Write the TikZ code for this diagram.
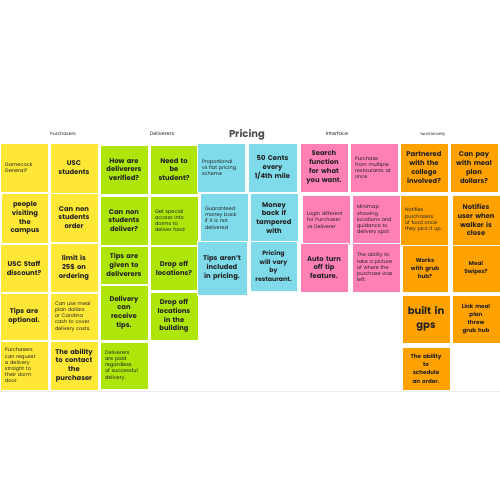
\documentclass[tikz,border=0pt]{standalone}
\usepackage{fontspec}
\setmainfont{Poppins}
\hyphenpenalty=10000
\exhyphenpenalty=10000
\definecolor{yel}{HTML}{FFE835}
\definecolor{grn}{HTML}{AEE60B}
\definecolor{cya}{HTML}{7FDBEA}
\definecolor{pnk}{HTML}{FF80B4}
\definecolor{org}{HTML}{FFA200}
\definecolor{ink}{HTML}{222222}
\tikzset{
  stick/.style={draw=white, line width=0.4pt, inner sep=1pt, text=ink, align=center},
  big/.style={font=\fontsize{6.8}{8.8}\selectfont\bfseries, text width=45pt, align=center},
  med/.style={font=\fontsize{5.6}{8.2}\selectfont\bfseries, text width=44pt, align=center},
  sml/.style={font=\fontsize{5}{6.2}\selectfont, text width=38pt, align=left},
  hdr/.style={font=\fontsize{4.6}{5}\selectfont, text=ink},
}
\begin{document}
\begin{tikzpicture}[x=1pt,y=-1pt]
\useasboundingbox (0,0) rectangle (500,500);
\draw[gray!15, line width=0.6pt] (0,391) -- (500,391);
% headers
\node[hdr] (h1) at (63,134) {Purchasers};
\node[hdr, font=\fontsize{5}{6}\selectfont] (h2) at (162,134) {Deliverers};
\node[hdr, font=\fontsize{10}{12}\selectfont\bfseries, text=black!70] (h3) at (247,135) {Pricing};
\node[hdr, font=\fontsize{5}{6}\selectfont] (h4) at (337,134) {Interface};
\node[hdr, font=\fontsize{4}{5}\selectfont] (h5) at (433,134) {functionality};
% yellow
\node[stick, fill=yel, sml, minimum width=48pt, minimum height=49pt] (a1) at (24,167.5) {Gamecock\\General?};
\node[stick, fill=yel, big, minimum width=48pt, minimum height=50pt] (a2) at (74,168) {USC\\students};
\node[stick, fill=yel, big, minimum width=46pt, minimum height=50pt] (a3) at (25,218) {people\\visiting\\the\\campus};
\node[stick, fill=yel, big, minimum width=48pt, minimum height=49pt] (a4) at (74,217.5) {Can non\\students\\order};
\node[stick, fill=yel, big, minimum width=48pt, minimum height=48pt] (a5) at (24,268) {USC Staff\\discount?};
\node[stick, fill=yel, big, minimum width=48pt, minimum height=49pt] (a6) at (74,267.5) {limit is\\25\$ on\\ordering};
\node[stick, fill=yel, big, minimum width=48pt, minimum height=47pt] (a7) at (24,316.5) {Tips are\\optional.};
\node[stick, fill=yel, sml, minimum width=48pt, minimum height=47pt] (a8) at (74,316.5) {Can use meal plan dollars or Carolina cash to cover delivery costs.};
\node[stick, fill=yel, sml, minimum width=48pt, minimum height=49pt] (a9) at (24,365.5) {Purchasers can request a delivery straight to their dorm door.};
\node[stick, fill=yel, big, minimum width=48pt, minimum height=49pt] (a10) at (74,365.5) {The ability\\to contact\\the\\purchaser};
% green
\node[stick, fill=grn, big, minimum width=48pt, minimum height=49pt] (b1) at (124,169.5) {How are\\deliverers\\verified?};
\node[stick, fill=grn, big, minimum width=48pt, minimum height=49pt] (b2) at (174,169.5) {Need to\\be\\student?};
\node[stick, fill=grn, big, minimum width=48pt, minimum height=49pt] (b3) at (124,220.5) {Can non\\students\\deliver?};
\node[stick, fill=grn, sml, minimum width=48pt, minimum height=49pt] (b4) at (174,220.5) {Get special access into dorms to deliver food};
\node[stick, fill=grn, big, minimum width=48pt, minimum height=38pt] (b5) at (124,265) {Tips are\\given to\\deliverers};
\node[stick, fill=grn, big, minimum width=48pt, minimum height=44pt] (b6) at (174,268) {Drop off\\locations?};
\node[stick, fill=grn, big, minimum width=48pt, minimum height=55pt] (b7) at (124,312.5) {Delivery\\can\\receive\\tips.};
\node[stick, fill=grn, big, minimum width=48pt, minimum height=48pt] (b8) at (174,316) {Drop off\\locations\\in the\\building};
\node[stick, fill=grn, sml, minimum width=48pt, minimum height=47pt] (b9) at (124,365.5) {Deliverers are paid regardless of successful delivery.};
% cyan
\node[stick, fill=cya, sml, minimum width=48pt, minimum height=49pt] (c1) at (221,167.5) {Proportional vs flat pricing scheme};
\node[stick, fill=cya, big, minimum width=49pt, minimum height=49pt] (c2) at (272.5,167.5) {50 Cents\\every\\1/4th mile};
\node[stick, fill=cya, sml, minimum width=48pt, minimum height=50pt] (c3) at (224,218) {Guaranteed money back if it is not delivered};
\node[stick, fill=cya, big, minimum width=48pt, minimum height=50pt] (c4) at (274,218) {Money\\back if\\tampered\\with};
\node[stick, fill=cya, big, minimum width=50pt, minimum height=54pt] (c5) at (222,268) {Tips aren't\\included\\in pricing.};
\node[stick, fill=cya, big, font=\fontsize{6.2}{8.8}\selectfont\bfseries, minimum width=47pt, minimum height=50pt] (c6) at (273.5,266) {Pricing\\will vary\\by\\restaurant.};
% pink
\node[stick, fill=pnk, big, minimum width=48pt, minimum height=49pt] (d1) at (324,167.5) {Search\\function\\for what\\you want.};
\node[stick, fill=pnk, sml, minimum width=48pt, minimum height=49pt] (d2) at (374,167.5) {Purchase from multiple restaurants at once};
\node[stick, fill=pnk, sml, minimum width=48pt, minimum height=50pt] (d3) at (326,220) {Login different for Purchaser vs Deliverer};
\node[stick, fill=pnk, sml, minimum width=48pt, minimum height=50pt] (d4) at (376,220) {Minimap showing locations and guidance to delivery spot};
\node[stick, fill=pnk, big, minimum width=48pt, minimum height=49pt] (d5) at (324,267.5) {Auto turn\\off tip\\feature.};
\node[stick, fill=pnk, sml, minimum width=48pt, minimum height=49pt] (d6) at (376,267.5) {The ability to take a picture of where the purchase was left.};
% orange
\node[stick, fill=org, big, minimum width=48pt, minimum height=49pt] (e1) at (424,167.5) {Partnered\\with the\\college\\involved?};
\node[stick, fill=org, big, minimum width=48pt, minimum height=49pt] (e2) at (474,167.5) {Can pay\\with meal\\plan\\dollars?};
\node[stick, fill=org, sml, minimum width=48pt, minimum height=50pt] (e3) at (424,220) {Notifies purchasers of food once they pick it up.};
\node[stick, fill=org, big, minimum width=48pt, minimum height=50pt] (e4) at (476,220) {Notifies\\user when\\walker is\\close};
\node[stick, fill=org, med, minimum width=46pt, minimum height=47pt] (e5) at (425,268.5) {Works\\with grub\\hub?};
\node[stick, fill=org, med, minimum width=48pt, minimum height=47pt] (e6) at (476,268.5) {Meal\\Swipes?};
\node[stick, fill=org, big, font=\fontsize{10}{14}\selectfont\bfseries, minimum width=48pt, minimum height=48pt] (e7) at (426,319) {built in\\gps};
\node[stick, fill=org, med, minimum width=48pt, minimum height=48pt] (e8) at (476,319) {Link meal\\plan\\threw\\grub hub};
\node[stick, fill=org, med, minimum width=48pt, minimum height=43pt] (e9) at (426,368.5) {The ability\\to\\schedule\\an order.};
\end{tikzpicture}
\end{document}
